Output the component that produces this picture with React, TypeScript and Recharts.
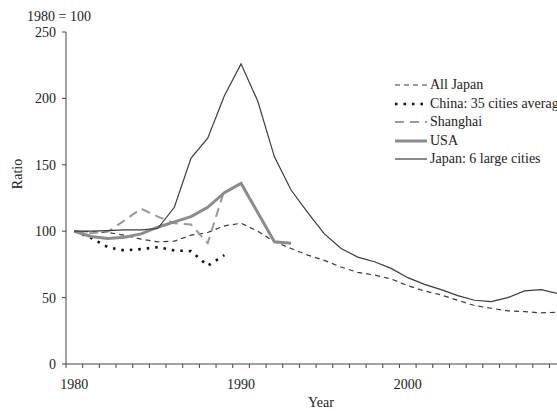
import { LineChart, Line, XAxis, YAxis } from 'recharts';

const YEARS = [
  1980, 1981, 1982, 1983, 1984, 1985, 1986, 1987, 1988, 1989,
  1990, 1991, 1992, 1993, 1994, 1995, 1996, 1997, 1998, 1999,
  2000, 2001, 2002, 2003, 2004, 2005, 2006, 2007, 2008, 2009,
];

const ALL_JAPAN = [
  100, 99.5, 99, 97, 94, 92, 92.5, 97, 99, 104,
  106, 100, 92, 87, 82, 78, 73, 69, 67, 64,
  59, 55, 52, 48, 44, 42, 40, 39.5, 38.5, 39,
];
const CHINA_35 = [100, 95, 88, 85.5, 86.5, 88, 85.5, 85, 74, 82];
const SHANGHAI = [100, 98.5, 99.5, 108, 117, 111, 106, 105, 91, 131];
const USA = [100, 96, 94.5, 95.5, 98, 103, 107, 111, 118, 129, 136, 114, 92, 91];
const JAPAN_6 = [
  100, 100, 100.5, 101, 101, 102, 118, 155, 170, 202,
  226, 198, 156, 131, 114, 98, 87, 80.5, 77, 72,
  65, 60, 56, 51.5, 48, 47, 50, 55, 56, 53,
];

const RATIO_TICKS = [0, 50, 100, 150, 200, 250];
const YEAR_LABELS = [1980, 1990, 2000];
// tick marks sit between the years, labels sit on the year itself
const MINOR_TICKS = YEARS.map((y) => y - 0.5);
const YEAR_DOMAIN: [number, number] = [1979.5, 2008.95];

const SERIES = [
  { key: 'allJapan', name: 'All Japan', values: ALL_JAPAN, stroke: '#3a3a3a', width: 1.2, dash: '5 4' },
  { key: 'china', name: 'China: 35 cities average', values: CHINA_35, stroke: '#111', width: 2.6, dash: '2.5 6' },
  { key: 'shanghai', name: 'Shanghai', values: SHANGHAI, stroke: '#9a9a9a', width: 2, dash: '9 6' },
  { key: 'usa', name: 'USA', values: USA, stroke: '#8c8c8c', width: 3, dash: undefined },
  { key: 'japan6', name: 'Japan: 6 large cities', values: JAPAN_6, stroke: '#3c3c3c', width: 1.2, dash: undefined },
];

const data = YEARS.map((year, i) => {
  const row: Record<string, number | null> = { year };
  SERIES.forEach((s) => {
    row[s.key] = s.values[i] ?? null;
  });
  return row;
});

const W = 557;
const H = 411;
const Y_AXIS_W = 66;
const FONT = "'Liberation Serif', 'Times New Roman', serif";
const TEXT = '#222';
const AXIS = '#444';
const FS = 14;

const HALF_YEAR_PX = (W - Y_AXIS_W) / (YEAR_DOMAIN[1] - YEAR_DOMAIN[0]) / 2;

// eslint-disable-next-line @typescript-eslint/no-explicit-any
function YearTick({ x, y, payload }: any) {
  const year = payload.value + 0.5;
  if (!YEAR_LABELS.includes(year)) return null;
  return (
    <text x={x + HALF_YEAR_PX} y={y} dy="0.71em" textAnchor="middle" fill={TEXT} fontSize={FS} fontFamily={FONT}>
      {year}
    </text>
  );
}

function ChartLegend() {
  return (
    <div style={{ position: 'absolute', left: 393, top: 76, fontFamily: FONT, fontSize: FS, color: TEXT, whiteSpace: 'nowrap' }}>
      {SERIES.map((s) => (
        <div key={s.key} style={{ display: 'flex', alignItems: 'center', height: 18.5 }}>
          <svg width={36} height={10} style={{ marginRight: 1 }}>
            <line x1={2} y1={5} x2={34} y2={5} stroke={s.stroke} strokeWidth={s.width} strokeDasharray={s.dash} />
          </svg>
          <span>{s.name}</span>
        </div>
      ))}
    </div>
  );
}

export default function App() {
  return (
    <div style={{ position: 'absolute', left: 0, top: 0, width: W, height: H, overflow: 'hidden', background: '#fff' }}>
      <LineChart width={W} height={H} data={data} margin={{ top: 32, right: 0, bottom: 0, left: 0 }}>
        <XAxis
          dataKey="year"
          type="number"
          domain={YEAR_DOMAIN}
          allowDataOverflow
          ticks={MINOR_TICKS}
          tick={<YearTick />}
          tickSize={4}
          tickMargin={11}
          height={47}
          stroke={AXIS}
          interval={0}
        />
        <YAxis
          type="number"
          domain={[0, 250]}
          ticks={RATIO_TICKS}
          width={Y_AXIS_W}
          tickSize={4}
          tickMargin={6}
          stroke={AXIS}
          tick={{ fill: TEXT, fontSize: FS, fontFamily: FONT }}
        />
        {SERIES.map((s) => (
          <Line
            key={s.key}
            dataKey={s.key}
            name={s.name}
            type="linear"
            stroke={s.stroke}
            strokeWidth={s.width}
            strokeDasharray={s.dash}
            dot={false}
            activeDot={false}
            isAnimationActive={false}
          />
        ))}
      </LineChart>
      <div style={{ position: 'absolute', left: 27, top: 17, transform: 'translateY(-50%)', fontFamily: FONT, fontSize: FS, color: TEXT, whiteSpace: 'nowrap' }}>
        1980 = 100
      </div>
      <div style={{ position: 'absolute', left: 18, top: 174, transform: 'translate(-50%, -50%) rotate(-90deg)', fontFamily: FONT, fontSize: FS, color: TEXT }}>
        Ratio
      </div>
      <div style={{ position: 'absolute', left: 321, top: 403, transform: 'translate(-50%, -50%)', fontFamily: FONT, fontSize: FS, color: TEXT }}>
        Year
      </div>
      <ChartLegend />
    </div>
  );
}
